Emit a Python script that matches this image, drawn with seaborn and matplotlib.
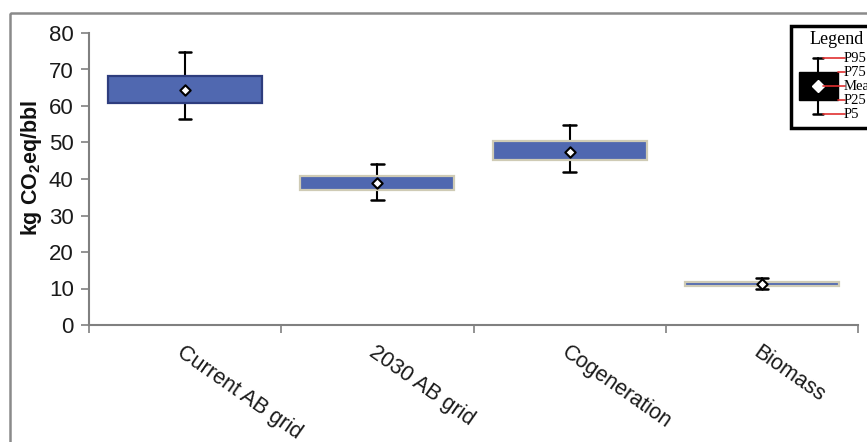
import matplotlib
matplotlib.use("Agg")
import matplotlib.pyplot as plt
import seaborn as sns
import pandas as pd
from matplotlib.patches import Rectangle
from matplotlib.ticker import FixedLocator, NullFormatter

# --- data ---
categories = ['Current AB grid', '2030 AB grid', 'Cogeneration', 'Biomass']
p5 = [56.5, 34.2, 41.8, 9.9]
p25 = [60.9, 36.9, 45.1, 10.8]
mean = [64.3, 38.8, 47.4, 11.3]
p75 = [68.3, 40.9, 50.4, 11.8]
p95 = [74.8, 44.2, 54.8, 12.8]
y_ticks = [0, 10, 20, 30, 40, 50, 60, 70, 80]
legend_labels = ['P95', 'P75', 'Mean', 'P25', 'P5']

df = pd.DataFrame({'category': categories, 'pos': range(len(categories)),
                   'p5': p5, 'p25': p25, 'mean': mean, 'p75': p75, 'p95': p95})

sns.set_theme(style='white')
plt.rcParams['font.family'] = ['Liberation Sans', 'DejaVu Sans']
plt.rcParams['mathtext.fontset'] = 'custom'
plt.rcParams['mathtext.rm'] = 'Liberation Sans'
plt.rcParams['mathtext.bf'] = 'Liberation Sans:bold'

W, H = 867, 442
fig = plt.figure(figsize=(W / 100, H / 100), dpi=100)
ax = fig.add_axes([89 / W, 1 - 325 / H, (858 - 89) / W, (325 - 33) / H])

# boxes P25-P75 with whiskers to P5/P95
stats = [dict(whislo=r.p5, q1=r.p25, med=r.mean, q3=r.p75, whishi=r.p95, label=r.category)
         for r in df.itertuples()]
bp = ax.bxp(stats, positions=df['pos'], widths=0.8, patch_artist=True,
            showfliers=False, capwidths=0.065,
            boxprops=dict(facecolor='#5068B0', linewidth=1.6),
            whiskerprops=dict(color='black', linewidth=1.5),
            capprops=dict(color='black', linewidth=1.8),
            medianprops=dict(linewidth=0))
edge_colors = ['#2E3D7E', '#CFCBB5', '#CFCBB5', '#CFCBB5']
for patch, ec in zip(bp['boxes'], edge_colors):
    patch.set_edgecolor(ec)
    patch.set_zorder(3)
for ln in bp['whiskers'] + bp['caps']:
    ln.set_zorder(2)

# mean markers
sns.scatterplot(data=df, x='pos', y='mean', marker='D', s=28, color='white',
                edgecolor='black', linewidth=1.5, zorder=5, legend=False, ax=ax)

ax.set_xlim(-0.5, len(categories) - 0.5)
ax.set_ylim(0, 80)
ax.set_yticks(y_ticks)
ax.set_xlabel('')
ax.set_ylabel('')

# ticks at category boundaries, labels at centers
ax.xaxis.set_major_locator(FixedLocator([i - 0.5 for i in range(len(categories) + 1)]))
ax.xaxis.set_major_formatter(NullFormatter())
ax.set_xticks(df['pos'], minor=True)
ax.set_xticklabels(categories, minor=True, rotation=-35, ha='left',
                   rotation_mode='anchor', fontsize=15.5, color='#1a1a1a')
ax.tick_params(axis='x', which='minor', length=0, pad=12)
ax.tick_params(axis='x', which='major', direction='out', length=6, width=1.2,
               color='#808080', bottom=True)
ax.tick_params(axis='y', direction='out', length=6, width=1.2, color='#808080',
               labelsize=16, labelcolor='#1a1a1a', left=True, pad=5)

for s in ['top', 'right']:
    ax.spines[s].set_visible(False)
for s in ['left', 'bottom']:
    ax.spines[s].set_color('#808080')
    ax.spines[s].set_linewidth(1.5)

fig.text(31 / W, 1 - 168 / H, r'kg CO$_\mathbf{2}$eq/bbl', rotation=90,
         ha='center', va='center', fontsize=15.5, fontweight='bold', color='#111111')

# overlay in pixel coordinates: frame and legend graphic
ov = fig.add_axes([0, 0, 1, 1], zorder=10)
ov.set_xlim(0, W)
ov.set_ylim(H, 0)
ov.axis('off')
ov.patch.set_alpha(0)

ov.add_patch(Rectangle((10, 13), 900, 500, fill=False, edgecolor='#8a8a8a', linewidth=1.8))

ov.add_patch(Rectangle((791, 26), 120, 102, facecolor='white', edgecolor='black', linewidth=2.5))
ov.text(837, 40, 'Legend', ha='center', va='center', fontsize=13,
        family=['Liberation Serif', 'DejaVu Serif'], color='black')
ov.add_patch(Rectangle((799, 72), 39, 28, facecolor='black', edgecolor='black'))
ov.plot([818, 818], [58, 114], color='black', linewidth=1.5)
ov.plot([813, 823], [58, 58], color='black', linewidth=1.8)
ov.plot([813, 823], [114, 114], color='black', linewidth=1.8)
ov.plot([818], [86], marker='D', markersize=6, color='white', markeredgecolor='white')
ys = [58, 72, 86, 100, 114]
starts = [823, 838, 823, 838, 823]
for y, x0, lab in zip(ys, starts, legend_labels):
    ov.plot([x0, 845], [y, y], color='#E03030', linewidth=1.2)
    ov.text(844, y, lab, ha='left', va='center', fontsize=10.5,
            family=['Liberation Serif', 'DejaVu Serif'], color='black')

fig.savefig('out.png', dpi=100)
